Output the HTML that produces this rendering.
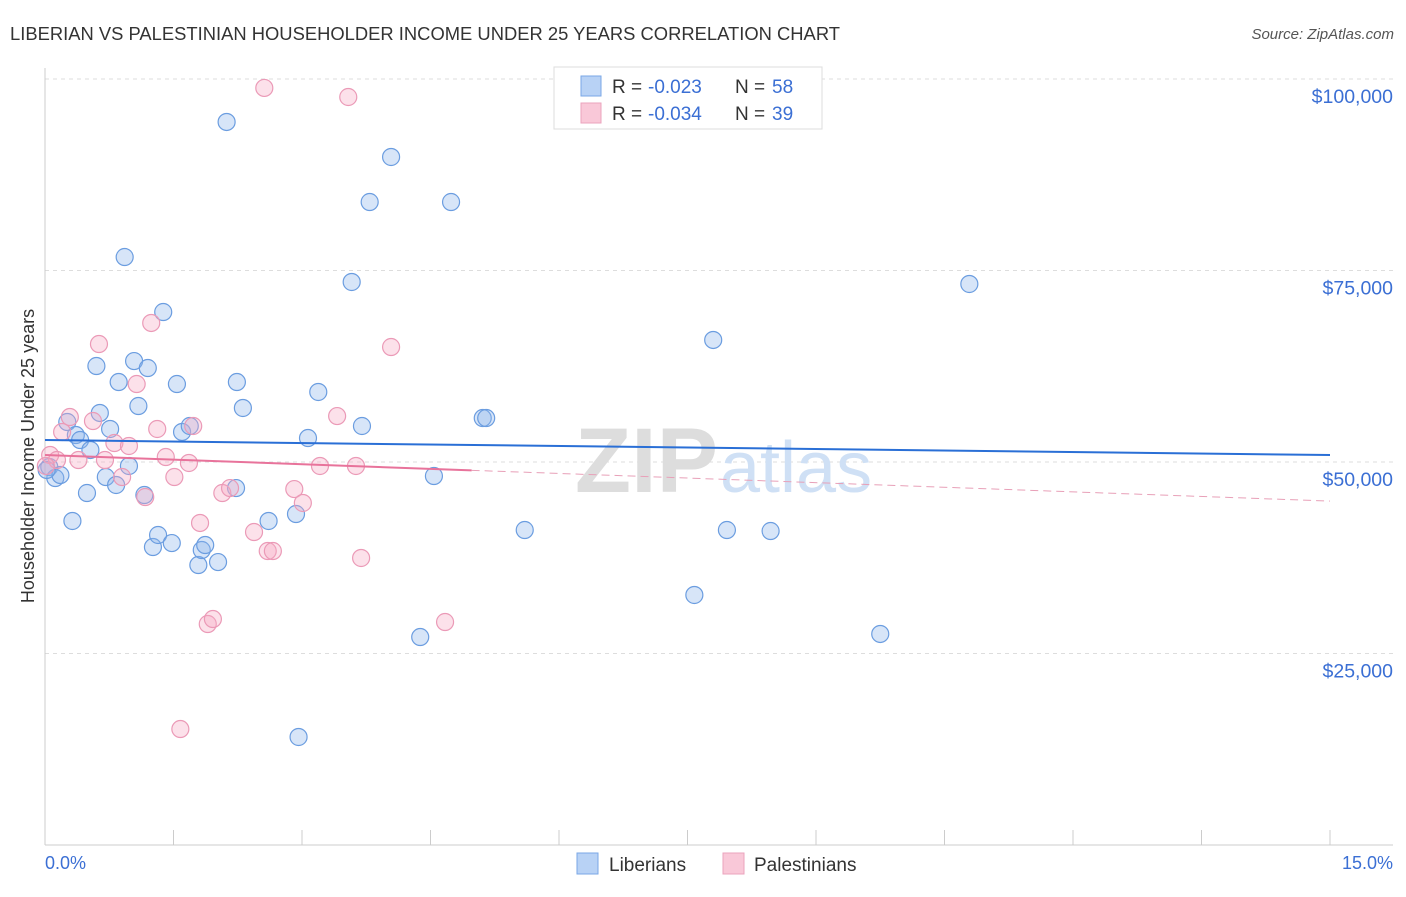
<!DOCTYPE html>
<html><head><meta charset="utf-8"><style>
body{margin:0;background:#fff;font-family:"Liberation Sans",sans-serif}
svg text{font-family:"Liberation Sans",sans-serif}
</style></head><body>
<svg id="chart" width="1406" height="892">
<text x="10" y="40" font-size="18" fill="#333" textLength="830" lengthAdjust="spacingAndGlyphs">LIBERIAN VS PALESTINIAN HOUSEHOLDER INCOME UNDER 25 YEARS CORRELATION CHART</text>
<text x="1394" y="39" font-size="15" fill="#555" text-anchor="end" font-style="italic">Source: ZipAtlas.com</text>
<g id="grid"></g>
<text x="718" y="492" font-size="92" fill="#ddd" text-anchor="end" font-family="Liberation Serif" font-weight="bold">ZIP</text>
<text x="720" y="492" font-size="72" fill="#cfe0f5">atlas</text>
<g id="marks"></g>
<text transform="translate(34,456) rotate(-90)" font-size="18" fill="#333" text-anchor="middle">Householder Income Under 25 years</text>
<text x="45" y="869" font-size="18" fill="#3b6fd4">0.0%</text>
<text x="1393" y="869" font-size="18" fill="#3b6fd4" text-anchor="end">15.0%</text>
<g>
<rect x="554" y="67" width="268" height="62" fill="#fff" stroke="#ddd"/>
<rect x="581" y="76" width="20" height="20" fill="#b8d2f5" stroke="#7aa7e6"/>
<rect x="581" y="103" width="20" height="20" fill="#f9c8d8" stroke="#eba3bd"/>
<text x="612" y="93" font-size="19" fill="#333">R =</text>
<text x="648" y="93" font-size="19" fill="#3b6fd4">-0.023</text>
<text x="735" y="93" font-size="19" fill="#333">N =</text>
<text x="772" y="93" font-size="19" fill="#3b6fd4">58</text>
<text x="612" y="120" font-size="19" fill="#333">R =</text>
<text x="648" y="120" font-size="19" fill="#3b6fd4">-0.034</text>
<text x="735" y="120" font-size="19" fill="#333">N =</text>
<text x="772" y="120" font-size="19" fill="#3b6fd4">39</text>
</g>
<g>
<rect x="577" y="853" width="21" height="21" fill="#b8d2f5" stroke="#7aa7e6"/>
<text x="609" y="871" font-size="19" fill="#333">Liberians</text>
<rect x="723" y="853" width="21" height="21" fill="#f9c8d8" stroke="#eba3bd"/>
<text x="754" y="871" font-size="19" fill="#333">Palestinians</text>
</g>
</svg>
<script>
const yTicks=[25000,50000,75000,100000];
const yTickLabels=["$25,000","$50,000","$75,000","$100,000"];
const blueX=[0.05,0.12,0.18,0.26,0.32,0.36,0.41,0.49,0.53,0.60,0.64,0.71,0.76,0.83,0.86,0.93,0.98,1.04,1.09,1.16,1.20,1.26,1.32,1.38,1.48,1.54,1.60,1.69,1.79,1.83,1.87,2.02,2.12,2.23,2.24,2.31,2.61,2.93,3.07,3.19,3.58,3.70,3.79,4.04,4.38,4.54,4.74,5.11,5.15,5.60,7.58,7.80,7.96,8.47,9.75,10.79,2.96,0.02];
const blueY=[49.35,47.91,48.30,55.22,42.30,53.52,52.87,45.95,51.57,62.53,56.40,48.04,54.31,47.00,60.44,76.76,49.48,63.18,57.31,45.69,62.27,38.90,40.47,69.58,39.42,60.18,53.92,54.70,36.55,38.51,39.16,36.94,94.39,46.60,60.44,57.05,42.30,43.21,53.13,59.14,73.50,54.70,83.94,89.82,27.15,48.17,83.94,55.74,55.74,41.12,32.64,65.93,41.12,40.99,27.55,73.24,14.10,48.96];
const pinkX=[0.06,0.14,0.20,0.29,0.39,0.56,0.63,0.70,0.81,0.90,0.98,1.07,1.17,1.24,1.31,1.41,1.51,1.58,1.68,1.73,1.81,1.90,1.96,2.07,2.16,2.44,2.56,2.60,2.66,2.91,3.01,3.21,3.41,3.54,3.63,3.69,4.04,4.67,0.01];
const pinkY=[50.91,50.26,53.92,55.87,50.26,55.35,65.40,50.26,52.48,48.04,52.09,60.18,45.43,68.15,54.31,50.65,48.04,15.14,49.87,54.70,42.04,28.85,29.50,45.95,46.60,40.86,98.83,38.38,38.38,46.47,44.65,49.48,56.00,97.65,49.48,37.47,65.01,29.11,49.48];
const blueTrend=[52.87,50.91];
const pinkTrend=[50.91,44.9];
const pinkSolidEnd=4.98;
const NS="http://www.w3.org/2000/svg";
const xs=v=>45+v/15*1285;
const ys=k=>79+(100-k)*191.5/25;
function mk(t,a,p){const e=document.createElementNS(NS,t);for(const k in a)e.setAttribute(k,a[k]);p.appendChild(e);return e;}
const grid=document.getElementById('grid'),marks=document.getElementById('marks');
yTicks.forEach((v,i)=>{const y=ys(v/1000);
const l=mk('line',{x1:45,x2:1393,y1:y,y2:y,stroke:'#ddd','stroke-dasharray':'4,4'},grid);


const t=mk('text',{x:1393,y:y+24,'font-size':19.5,fill:'#3b6fd4','text-anchor':'end'},grid);t.textContent=yTickLabels[i];

});
mk('line',{x1:45,x2:45,y1:68,y2:845,stroke:'#ccc'},grid);
mk('line',{x1:45,x2:1393,y1:845,y2:845,stroke:'#ccc'},grid);
for(let i=0;i<=10;i++){const x=xs(i*1.5);const l=mk('line',{x1:x,x2:x,y1:830,y2:845,stroke:'#ccc'},grid);

}
blueX.forEach((x,i)=>{const c=mk('circle',{cx:xs(x),cy:ys(blueY[i]),r:8.5,fill:'rgba(140,180,235,0.35)',stroke:'#6b9de0','stroke-width':1.2},marks);

});
pinkX.forEach((x,i)=>{const c=mk('circle',{cx:xs(x),cy:ys(pinkY[i]),r:8.5,fill:'rgba(245,170,195,0.35)',stroke:'#eb9ab7','stroke-width':1.2},marks);

});
const bl=mk('line',{x1:xs(0),y1:ys(blueTrend[0]),x2:xs(15),y2:ys(blueTrend[1]),stroke:'#2a6fd6','stroke-width':2},marks);


const pe=pinkTrend[0]+(pinkTrend[1]-pinkTrend[0])*pinkSolidEnd/15;
const pl=mk('line',{x1:xs(0),y1:ys(pinkTrend[0]),x2:xs(pinkSolidEnd),y2:ys(pe),stroke:'#e8739b','stroke-width':2},marks);


const pd=mk('line',{x1:xs(pinkSolidEnd),y1:ys(pe),x2:xs(15),y2:ys(pinkTrend[1]),stroke:'#e8a0b8','stroke-width':1,'stroke-dasharray':'8,5'},marks);


</script>
</body></html>
